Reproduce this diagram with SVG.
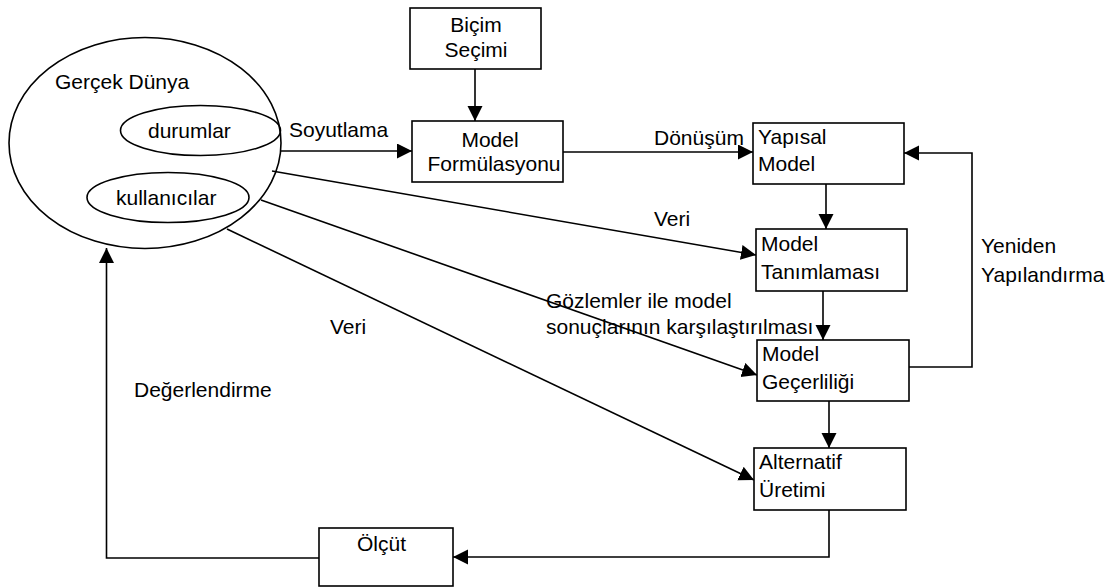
<svg xmlns="http://www.w3.org/2000/svg" width="1112" height="587" viewBox="0 0 1112 587">
<defs>
<marker id="arr" markerUnits="userSpaceOnUse" markerWidth="16" markerHeight="16" refX="15" refY="7.5" orient="auto">
<path d="M0,0 L15,7.5 L0,15 z" fill="#000"/>
</marker>
<style>
.box{fill:#fff;stroke:#000;stroke-width:1.6}
.ell{fill:none;stroke:#000;stroke-width:1.6}
.ln{fill:none;stroke:#000;stroke-width:1.6}
.arr{marker-end:url(#arr)}
text{font-family:"Liberation Sans",Arial,sans-serif;font-size:21px;fill:#000}
.c{text-anchor:middle}
</style>
</defs>
<rect width="1112" height="587" fill="#fff"/>
<g id="connectors">
<path class="ln arr" d="M475,69 V121"/>
<path class="ln arr" d="M280,151 H412"/>
<path class="ln arr" d="M563,152 H753"/>
<path class="ln arr" d="M826,184 V229"/>
<path class="ln arr" d="M823,291 V340"/>
<path class="ln arr" d="M829,401 V448"/>
<path class="ln arr" d="M909,367 H972 V153 H904"/>
<path class="ln arr" d="M272,171 L756,255"/>
<path class="ln arr" d="M261,200 L757,375"/>
<path class="ln arr" d="M227,229 L754,480"/>
<path class="ln arr" d="M829,510 V557 H453"/>
<path class="ln arr" d="M319,558 H106.5 V248"/>
</g>
<g id="labels">
<text x="289" y="137">Soyutlama</text>
<text x="654" y="145">Dönüşüm</text>
<text x="654" y="226">Veri</text>
<text x="330" y="334">Veri</text>
<text x="546" y="308">Gözlemler ile model</text>
<text x="546" y="334">sonuçlarının karşılaştırılması</text>
<text x="134" y="397">Değerlendirme</text>
<text x="981" y="253">Yeniden</text>
<text x="981" y="282">Yapılandırma</text>
</g>
<g id="gercek-dunya">
<ellipse class="ell" cx="145" cy="143" rx="136" ry="105.5"/>
<text x="55" y="89">Gerçek Dünya</text>
</g>
<g id="durumlar">
<ellipse class="ell" cx="200.5" cy="130.5" rx="80" ry="25"/>
<text x="148" y="138">durumlar</text>
</g>
<g id="kullanicilar">
<ellipse class="ell" cx="168" cy="197.5" rx="81" ry="25"/>
<text x="116" y="205">kullanıcılar</text>
</g>
<g id="bicim-secimi">
<rect class="box" x="410" y="8" width="131" height="61"/>
<text class="c" x="476" y="32">Biçim</text>
<text class="c" x="476" y="57">Seçimi</text>
</g>
<g id="model-formulasyonu">
<rect class="box" x="412" y="121" width="151" height="61"/>
<text class="c" x="490" y="147">Model</text>
<text class="c" x="494" y="171">Formülasyonu</text>
</g>
<g id="yapisal-model">
<rect class="box" x="753" y="123" width="151" height="61"/>
<text x="758" y="144">Yapısal</text>
<text x="758" y="171">Model</text>
</g>
<g id="model-tanimlamasi">
<rect class="box" x="756" y="229" width="151" height="62"/>
<text x="761" y="251">Model</text>
<text x="761" y="279">Tanımlaması</text>
</g>
<g id="model-gecerliligi">
<rect class="box" x="757" y="340" width="152" height="61"/>
<text x="762" y="361">Model</text>
<text x="762" y="389">Geçerliliği</text>
</g>
<g id="alternatif-uretimi">
<rect class="box" x="754" y="448" width="152" height="62"/>
<text x="759" y="469">Alternatif</text>
<text x="759" y="497">Üretimi</text>
</g>
<g id="olcut">
<rect class="box" x="319" y="528" width="134" height="58"/>
<text x="357" y="551">Ölçüt</text>
</g>
</svg>
